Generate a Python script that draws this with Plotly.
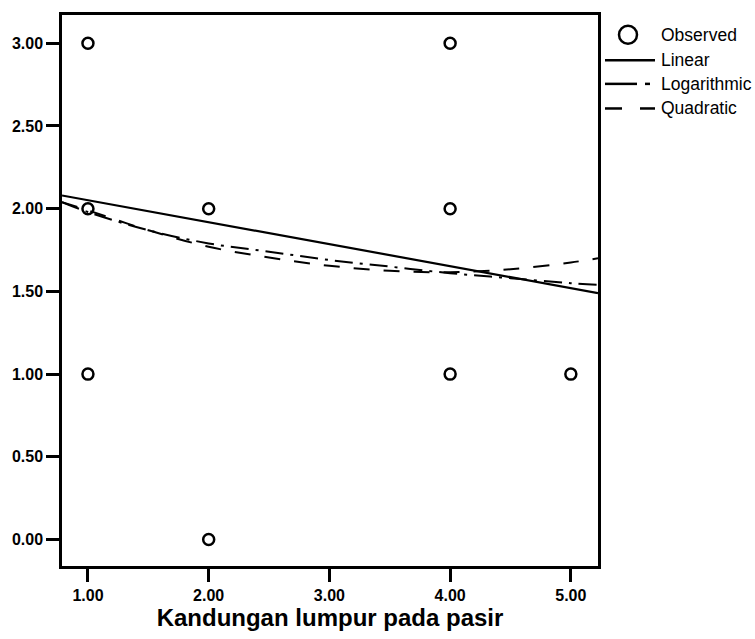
import plotly.graph_objects as go

# Observed cases
obs_x = [1, 1, 1, 2, 2, 4, 4, 4, 5]
obs_y = [3, 2, 1, 2, 0, 3, 2, 1, 1]

# Fitted curves, sampled across the x range
fit_x = [0.785, 1.0, 1.5, 2.0, 2.5, 3.0, 3.5, 4.0, 4.5, 5.0, 5.225]
log_y = [2.04, 1.98, 1.87, 1.79, 1.74, 1.69, 1.65, 1.61, 1.58, 1.55, 1.54]
quad_y = [2.04, 1.99, 1.87, 1.77, 1.705, 1.655, 1.625, 1.616, 1.634, 1.675, 1.70]
lin_x = [0.785, 5.225]
lin_y = [2.08, 1.49]

x_ticks = [1, 2, 3, 4, 5]
y_ticks = [0, 0.5, 1, 1.5, 2, 2.5, 3]
x_title = "Kandungan lumpur pada pasir"
legend_names = ["Observed", "Linear", "Logarithmic", "Quadratic"]

W, H = 755, 639
L, R, T, B = 62, 598, 12, 572
FONT = "Liberation Sans, Arial, sans-serif"

fig = go.Figure()
fig.add_trace(go.Scatter(x=lin_x, y=lin_y, mode="lines",
                         line=dict(color="black", width=2.2), showlegend=False))
fig.add_trace(go.Scatter(x=fit_x, y=log_y, mode="lines", line_shape="spline",
                         line=dict(color="black", width=2, dash="18px,7px,3px,7px"),
                         showlegend=False))
fig.add_trace(go.Scatter(x=fit_x, y=quad_y, mode="lines", line_shape="spline",
                         line=dict(color="black", width=2, dash="16px,14px"),
                         showlegend=False))
fig.add_trace(go.Scatter(x=obs_x, y=obs_y, mode="markers",
                         marker=dict(symbol="circle-open", size=11, color="black",
                                     line=dict(width=2.5)),
                         showlegend=False))

axis_common = dict(showline=True, mirror=True, linecolor="black", linewidth=2.5,
                   ticks="outside", ticklen=13, tickwidth=2.5, tickcolor="black",
                   showgrid=False, zeroline=False, tickformat=".2f",
                   tickfont=dict(family=FONT, size=16, color="black", weight="bold"))

fig.update_xaxes(range=[0.785, 5.225], tickvals=x_ticks, **axis_common,
                 title=dict(text=x_title, standoff=6,
                            font=dict(family=FONT, size=24, color="black", weight="bold")))
fig.update_yaxes(range=[-0.16, 3.171], tickvals=y_ticks, **axis_common)


def px_x(p):
    return (p - L) / (R - L)


def px_y(p):
    return (B - p) / (B - T)


shapes = []
ann = []
rows = [32, 58, 82, 107]
# legend: circle marker
shapes.append(dict(type="circle", xref="paper", yref="paper",
                   xsizemode="pixel", ysizemode="pixel",
                   xanchor=px_x(628), yanchor=px_y(rows[0]),
                   x0=-9, x1=9, y0=-9, y1=9,
                   line=dict(color="black", width=2.5)))
# legend: line samples
shapes.append(dict(type="line", xref="paper", yref="paper",
                   x0=px_x(605), x1=px_x(655), y0=px_y(rows[1]), y1=px_y(rows[1]),
                   line=dict(color="black", width=2.5)))
shapes.append(dict(type="line", xref="paper", yref="paper",
                   x0=px_x(605), x1=px_x(637), y0=px_y(rows[2]), y1=px_y(rows[2]),
                   line=dict(color="black", width=2.5)))
shapes.append(dict(type="line", xref="paper", yref="paper",
                   x0=px_x(645), x1=px_x(650), y0=px_y(rows[2]), y1=px_y(rows[2]),
                   line=dict(color="black", width=2.5)))
shapes.append(dict(type="line", xref="paper", yref="paper",
                   x0=px_x(605), x1=px_x(622), y0=px_y(rows[3]), y1=px_y(rows[3]),
                   line=dict(color="black", width=2.5)))
shapes.append(dict(type="line", xref="paper", yref="paper",
                   x0=px_x(640), x1=px_x(655), y0=px_y(rows[3]), y1=px_y(rows[3]),
                   line=dict(color="black", width=2.5)))

for name, r in zip(legend_names, rows):
    ann.append(dict(text=name, xref="paper", yref="paper", x=px_x(659), y=px_y(r),
                    xanchor="left", yanchor="middle", showarrow=False,
                    font=dict(family=FONT, size=17.5, color="black")))

fig.update_layout(width=W, height=H, autosize=False,
                  margin=dict(l=L, r=W - R, t=T, b=H - B, pad=0),
                  paper_bgcolor="white", plot_bgcolor="white",
                  shapes=shapes, annotations=ann, showlegend=False)

fig.write_html("out.html")
